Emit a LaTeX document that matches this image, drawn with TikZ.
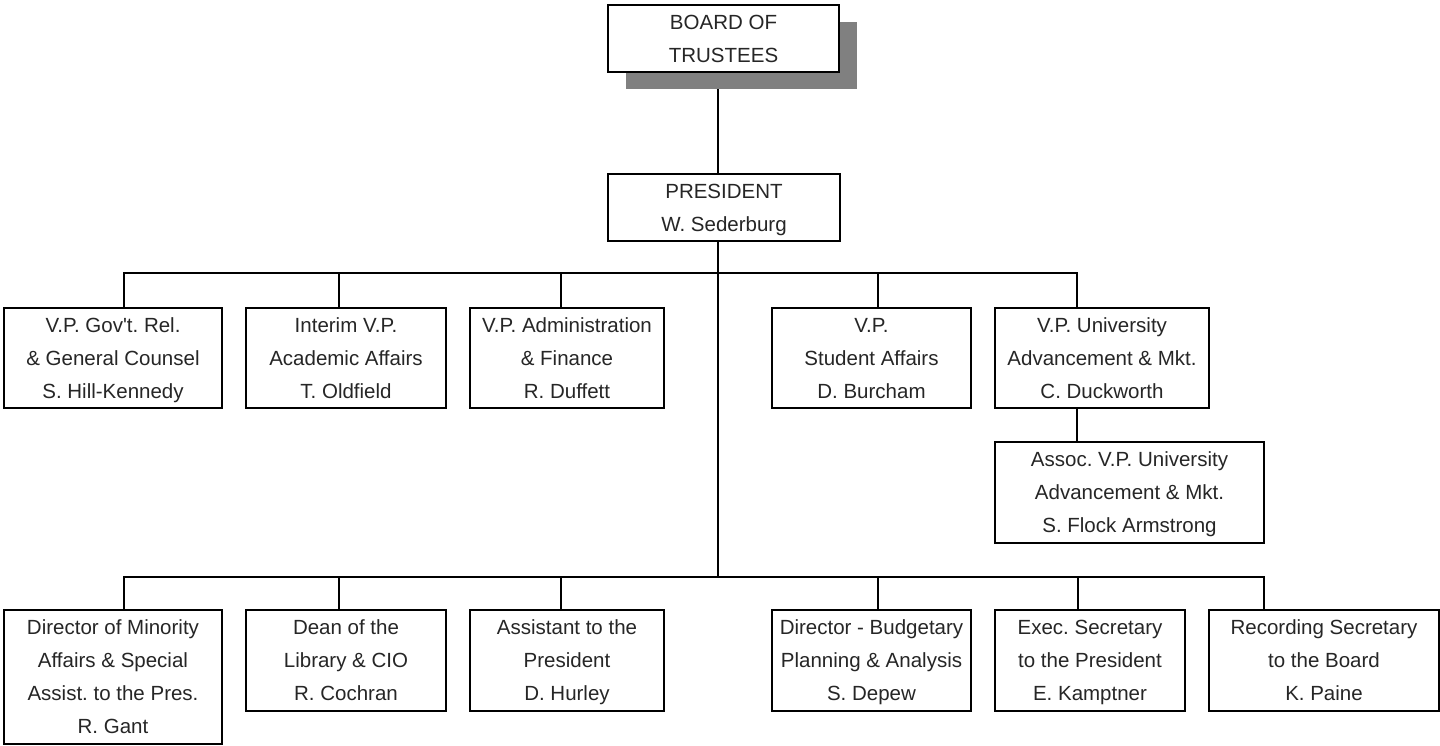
\documentclass[tikz,border=0pt]{standalone}
\usepackage{fontspec}
\setmainfont{Liberation Sans}
\usetikzlibrary{shadows,backgrounds}
\begin{document}
\frenchspacing
\begin{tikzpicture}[x=1pt, y=-1pt,
    orgbox/.style={draw, fill=white, line width=1.8pt, inner sep=0pt, align=center,
        text depth=-3pt, text=black!85, font=\fontsize{20.5pt}{33pt}\selectfont},
    link/.style={line width=1.8pt}]
\useasboundingbox (0,0) rectangle (1440,745);

\node[orgbox, minimum width=231pt, minimum height=67pt,
      drop shadow={shadow xshift=18pt, shadow yshift=-17pt, fill=gray, opacity=1}]
      (board) at (723.5,38.5) {BOARD OF\\TRUSTEES};
\node[orgbox, minimum width=232pt, minimum height=67pt] (pres) at (724,207.5) {PRESIDENT\\W. Sederburg};

\node[orgbox, minimum width=218pt, minimum height=100pt] (vpgov) at (113,358) {V.P. Gov\textquotesingle t. Rel.\\\& General Counsel\\S. Hill-Kennedy};
\node[orgbox, minimum width=200pt, minimum height=100pt] (vpacad) at (346,358) {Interim V.P.\\Academic Affairs\\T. Oldfield};
\node[orgbox, minimum width=194pt, minimum height=100pt] (vpadmin) at (567,358) {V.P. Administration\\\& Finance\\R. Duffett};
\node[orgbox, minimum width=199pt, minimum height=100pt] (vpstud) at (871.5,358) {V.P.\\Student Affairs\\D. Burcham};
\node[orgbox, minimum width=214pt, minimum height=100pt] (vpadv) at (1102,358) {V.P. University\\Advancement \& Mkt.\\C. Duckworth};
\node[orgbox, minimum width=269pt, minimum height=101pt] (assoc) at (1129.5,492.5) {Assoc. V.P. University\\Advancement \& Mkt.\\S. Flock Armstrong};

\node[orgbox, minimum width=218pt, minimum height=134pt] (minority) at (113,677) {Director of Minority\\Affairs \& Special\\Assist. to the Pres.\\R. Gant};
\node[orgbox, minimum width=200pt, minimum height=101pt] (library) at (346,660.5) {Dean of the\\Library \& CIO\\R. Cochran};
\node[orgbox, minimum width=194pt, minimum height=101pt] (assist) at (567,660.5) {Assistant to the\\President\\D. Hurley};
\node[orgbox, minimum width=199pt, minimum height=101pt] (budget) at (871.5,660.5) {Director - Budgetary\\Planning \& Analysis\\S. Depew};
\node[orgbox, minimum width=190pt, minimum height=101pt] (execsec) at (1090,660.5) {Exec. Secretary\\to the President\\E. Kamptner};
\node[orgbox, minimum width=230pt, minimum height=101pt] (recsec) at (1324,660.5) {Recording Secretary\\to the Board\\K. Paine};

\coordinate (bustop) at (718,273);
\coordinate (buslow) at (718,577);

\begin{scope}[on background layer]
\draw[link] (buslow |- board.south) -- (buslow);
\draw[link] ([xshift=11pt]vpgov.north) |- (bustop);
\draw[link] ([xshift=-7pt]vpacad.north) |- (bustop);
\draw[link] ([xshift=-6pt]vpadmin.north) |- (bustop);
\draw[link] ([xshift=6.5pt]vpstud.north) |- (bustop);
\draw[link] ([xshift=-25pt]vpadv.north) |- (bustop);
\draw[link] ([xshift=-25pt]vpadv.south) -- ([xshift=-25pt]vpadv.south |- assoc.north);
\draw[link] ([xshift=11pt]minority.north) |- (buslow);
\draw[link] ([xshift=-7pt]library.north) |- (buslow);
\draw[link] ([xshift=-6pt]assist.north) |- (buslow);
\draw[link] ([xshift=6.5pt]budget.north) |- (buslow);
\draw[link] ([xshift=-12pt]execsec.north) |- (buslow);
\draw[link] ([xshift=-60pt]recsec.north) |- (buslow);
\end{scope}

\end{tikzpicture}
\end{document}
